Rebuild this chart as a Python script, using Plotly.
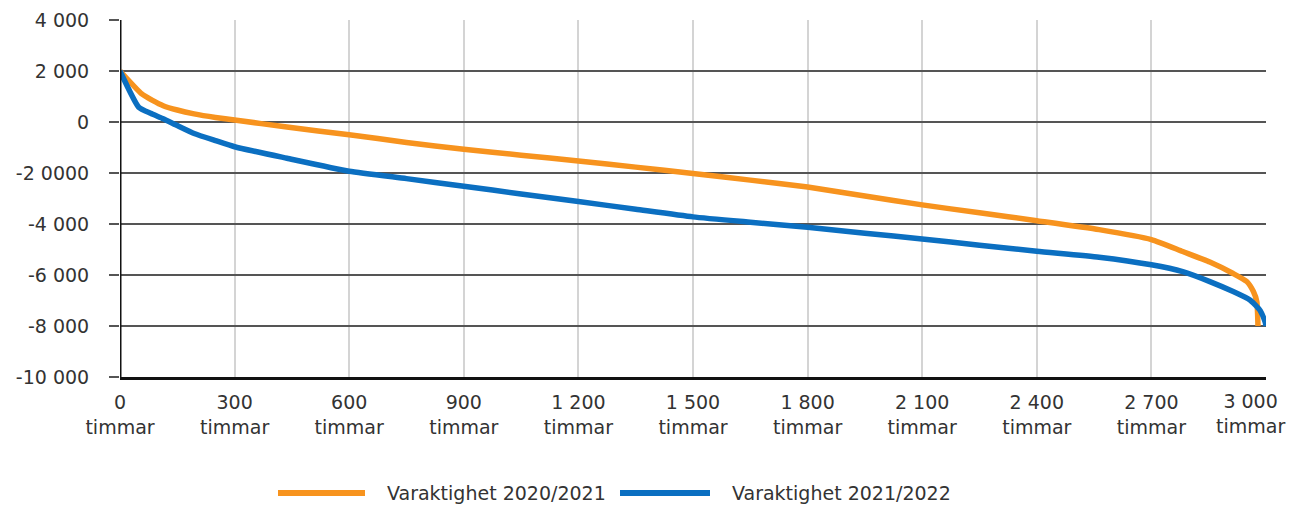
import plotly.graph_objects as go

# Data (hours, MW)
hours_2021 = [0, 57, 85, 113, 150, 194, 250, 300, 437, 600, 750, 900, 1050, 1200, 1350, 1500,
              1650, 1800, 1950, 2100, 2250, 2400, 2563, 2700, 2782, 2853, 2914, 2950, 2967,
              2976, 2979]
vals_2021 = [2000, 1100, 850, 640, 470, 320, 180, 80, -200, -500, -800, -1070, -1300, -1530,
             -1770, -2020, -2280, -2550, -2900, -3250, -3560, -3870, -4220, -4610, -5080, -5490,
             -5940, -6260, -6650, -7050, -8000]

hours_2022 = [0, 49, 80, 113, 150, 194, 250, 300, 437, 600, 750, 900, 1050, 1200, 1350, 1500,
              1650, 1800, 1950, 2100, 2250, 2400, 2563, 2700, 2782, 2853, 2914, 2958, 2985,
              2998, 3000]
vals_2022 = [2000, 580, 340, 130, -140, -450, -730, -970, -1420, -1930, -2220, -2520, -2820,
             -3120, -3420, -3720, -3930, -4130, -4360, -4590, -4830, -5070, -5300, -5600, -5870,
             -6260, -6650, -6980, -7400, -7850, -8000]

x_tickvals = [0, 300, 600, 900, 1200, 1500, 1800, 2100, 2400, 2700, 3000]
x_ticktext = ["0<br>timmar", "300<br>timmar", "600<br>timmar", "900<br>timmar", "1 200<br>timmar",
              "1 500<br>timmar", "1 800<br>timmar", "2 100<br>timmar", "2 400<br>timmar",
              "2 700<br>timmar", "3 000<br>timmar"]
y_tickvals = [4000, 2000, 0, -2000, -4000, -6000, -8000, -10000]
y_ticktext = ["4 000", "2 000", "0", "-2 0000", "-4 000", "-6 000", "-8 000", "-10 000"]

names = ["Varaktighet 2020/2021", "Varaktighet 2021/2022"]
ORANGE = "#F7931E"
BLUE = "#0B6FC1"
TEXT = "#333333"
FONT = "DejaVu Sans, Arial, sans-serif"

# page has an 8px body margin; figure coordinates = screen - 8
OFF = 8
W, H = 1296 - OFF, 505 - OFF
L, R, T, B = 120 - OFF, 1266 - OFF, 20 - OFF, 377 - OFF

def px_x(p):
    return (p - OFF - L) / (R - L)

def px_y(p):
    return (B - (p - OFF)) / (B - T)

fig = go.Figure()
fig.add_trace(go.Scatter(x=hours_2021, y=vals_2021, mode="lines", name=names[0],
                         line=dict(color=ORANGE, width=5.5, shape="spline", smoothing=0.5)))
fig.add_trace(go.Scatter(x=hours_2022, y=vals_2022, mode="lines", name=names[1],
                         line=dict(color=BLUE, width=5.5, shape="spline", smoothing=0.5)))

# last tick label is drawn as an annotation, kept inside the page (as in the reference)
axis_ticktext = x_ticktext[:-1] + [""]

fig.update_layout(
    width=W, height=H,
    margin=dict(l=L, r=W - R, t=T, b=H - B, autoexpand=False),
    paper_bgcolor="white", plot_bgcolor="white",
    font=dict(family=FONT, size=19, color=TEXT),
    showlegend=False,
    xaxis=dict(range=[0, 3000], tickvals=x_tickvals, ticktext=axis_ticktext, showgrid=True,
               gridcolor="#d4d4d4", gridwidth=1.5, zeroline=False, showline=True,
               linecolor="#111111", linewidth=3, ticks="", tickfont=dict(size=19),
               automargin=False, ticklabelstandoff=6, ticklabeloverflow="allow"),
    yaxis=dict(range=[-10000, 4000], tickvals=y_tickvals, ticktext=y_ticktext, showgrid=True,
               gridcolor="#555555", gridwidth=1.5, zeroline=False, showline=False,
               ticks="outside", ticklen=10, tickcolor="#555555", tickwidth=1.5,
               tickfont=dict(size=19), automargin=False, ticklabelstandoff=16,
               ticklabeloverflow="allow"),
)
fig.add_annotation(xref="x", yref="paper", x=x_tickvals[-1], y=0, text=x_ticktext[-1],
                   showarrow=False, xanchor="right", yanchor="top", xshift=20, yshift=-12,
                   borderpad=0, font=dict(size=19, color=TEXT, family=FONT))

# y axis line at x=0
fig.add_shape(type="line", xref="x", yref="paper", x0=0, x1=0, y0=0, y1=1,
              line=dict(color="#111111", width=3), layer="above")

# custom legend (long line samples as in the reference)
legend_items = [(278, 365, 385, names[0], ORANGE), (620, 710, 730, names[1], BLUE)]
ly = px_y(493)
for x0, x1, tx, label, col in legend_items:
    fig.add_shape(type="line", xref="paper", yref="paper", x0=px_x(x0), x1=px_x(x1), y0=ly, y1=ly,
                  line=dict(color=col, width=6))
    fig.add_annotation(xref="paper", yref="paper", x=px_x(tx), y=ly, text=label, showarrow=False,
                       xanchor="left", yanchor="middle", font=dict(size=19, color=TEXT, family=FONT))

fig.write_html("out.html")
